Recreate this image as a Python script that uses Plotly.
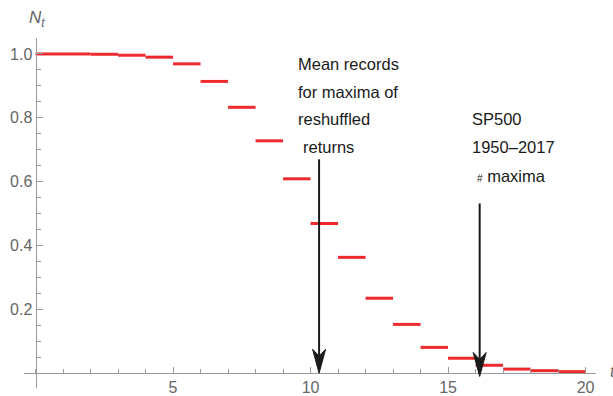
import plotly.graph_objects as go

# ---- data ----
t_start = list(range(20))
n_t = [1.0, 1.0, 0.999, 0.996, 0.990, 0.969, 0.914, 0.833, 0.728, 0.609,
       0.469, 0.363, 0.235, 0.153, 0.081, 0.047, 0.025, 0.013, 0.008, 0.005]

x_ticks = [5, 10, 15, 20]
y_ticks = [0.2, 0.4, 0.6, 0.8, 1.0]

arrow_x = [10.31, 16.15]
arrow_top = [0.67, 0.532]
arrow_tip = [0.0, -0.01]

label1 = ["Mean records", "for maxima of", "reshuffled", "returns"]
label2 = ["SP500", "1950\u20132017", "<span style='font-size:10px'>#</span> maxima"]

# ---- geometry ----
W, H = 613, 396
ml, mr, mt, mb = 24, 17, 38, 8
xr = [-0.42, 20.38]
yr = [-0.0462, 1.05]
pw = W - ml - mr
ph = H - mt - mb
px_x = pw / (xr[1] - xr[0])
px_y = ph / (yr[1] - yr[0])

def ydat(py):
    return yr[1] - (py - mt) / px_y

def xdat(px):
    return xr[0] + (px - ml) / px_x

def xpap(px):
    return (px - ml) / pw

def ypap(py):
    return 1 - (py - mt) / ph

# step segments
xs, ys = [], []
for t, v in zip(t_start, n_t):
    xs += [t, t + 1, None]
    ys += [v, v, None]

fig = go.Figure()
fig.add_trace(go.Scatter(x=xs, y=ys, mode="lines",
                         line=dict(color="#EE2A2E", width=3),
                         hoverinfo="skip", showlegend=False))

shapes = []
for ax_, top, tip in zip(arrow_x, arrow_top, arrow_tip):
    hl = 24 / px_y
    notch = 17 / px_y
    hw = 6.5 / px_x
    shapes.append(dict(type="line", xref="x", yref="y", x0=ax_, x1=ax_,
                       y0=top, y1=tip + notch,
                       line=dict(color="#1a1a1a", width=2)))
    path = (f"M {ax_},{tip} L {ax_ - hw},{tip + hl} L {ax_},{tip + notch} "
            f"L {ax_ + hw},{tip + hl} Z")
    shapes.append(dict(type="path", xref="x", yref="y", path=path,
                       fillcolor="#1a1a1a", line=dict(color="#1a1a1a", width=1)))

annotations = []
text_font = dict(family="Liberation Sans, Arial, sans-serif", size=16.5, color="#1a1a1a")
l1_rows = [64, 91.5, 119, 147]
l1_x = [296, 296, 296, 300.7]
for txt, row, xp in zip(label1, l1_rows, l1_x):
    annotations.append(dict(x=xdat(xp), y=ydat(row), xref="x", yref="y", text=txt,
                            showarrow=False, xanchor="left", yanchor="middle",
                            font=text_font))
l2_rows = [119, 147, 175.5]
l2_x = [470, 470, 475]
for txt, row, xp in zip(label2, l2_rows, l2_x):
    annotations.append(dict(x=xdat(xp), y=ydat(row), xref="x", yref="y", text=txt,
                            showarrow=False, xanchor="left", yanchor="middle",
                            font=text_font))

lab_font = dict(family="Liberation Sans, Arial, sans-serif", size=17, color="#666666")
annotations.append(dict(x=xpap(27), y=ypap(19), xref="paper", yref="paper",
                        text="<i>N<sub>t</sub></i>", showarrow=False,
                        xanchor="left", yanchor="middle", font=lab_font))
annotations.append(dict(x=xpap(608), y=ypap(371), xref="paper", yref="paper",
                        text="<i>t</i>", showarrow=False,
                        xanchor="left", yanchor="middle", font=lab_font))

axis_col = "#9a9a9a"
tick_font = dict(family="Liberation Sans, Arial, sans-serif", size=16, color="#666666")

fig.update_layout(
    width=W, height=H,
    margin=dict(l=ml, r=mr, t=mt, b=mb, pad=0),
    paper_bgcolor="white", plot_bgcolor="white",
    showlegend=False,
    shapes=shapes,
    annotations=annotations,
    xaxis=dict(range=xr, showgrid=False, zeroline=False, showline=True,
               linecolor=axis_col, linewidth=1,
               anchor="free", position=(0 - yr[0]) / (yr[1] - yr[0]),
               tickmode="array", tickvals=x_ticks,
               ticks="inside", ticklen=6, tickcolor=axis_col, tickwidth=1,
               tickfont=tick_font, automargin=False,
               minor=dict(ticks="inside", ticklen=4, dtick=1, tick0=0,
                          tickcolor=axis_col, tickwidth=1, showgrid=False)),
    yaxis=dict(range=yr, showgrid=False, zeroline=False, showline=True,
               linecolor=axis_col, linewidth=1,
               anchor="free", position=(0 - xr[0]) / (xr[1] - xr[0]),
               tickmode="array", tickvals=y_ticks, tickformat=".1f",
               ticks="inside", ticklen=6, tickcolor=axis_col, tickwidth=1,
               tickfont=tick_font, automargin=False,
               minor=dict(ticks="inside", ticklen=4, dtick=0.05, tick0=0,
                          tickcolor=axis_col, tickwidth=1, showgrid=False)),
)

fig.write_html("out.html",
               config={"displayModeBar": False},
               post_script="document.body.style.margin='0';document.body.style.padding='0';")
